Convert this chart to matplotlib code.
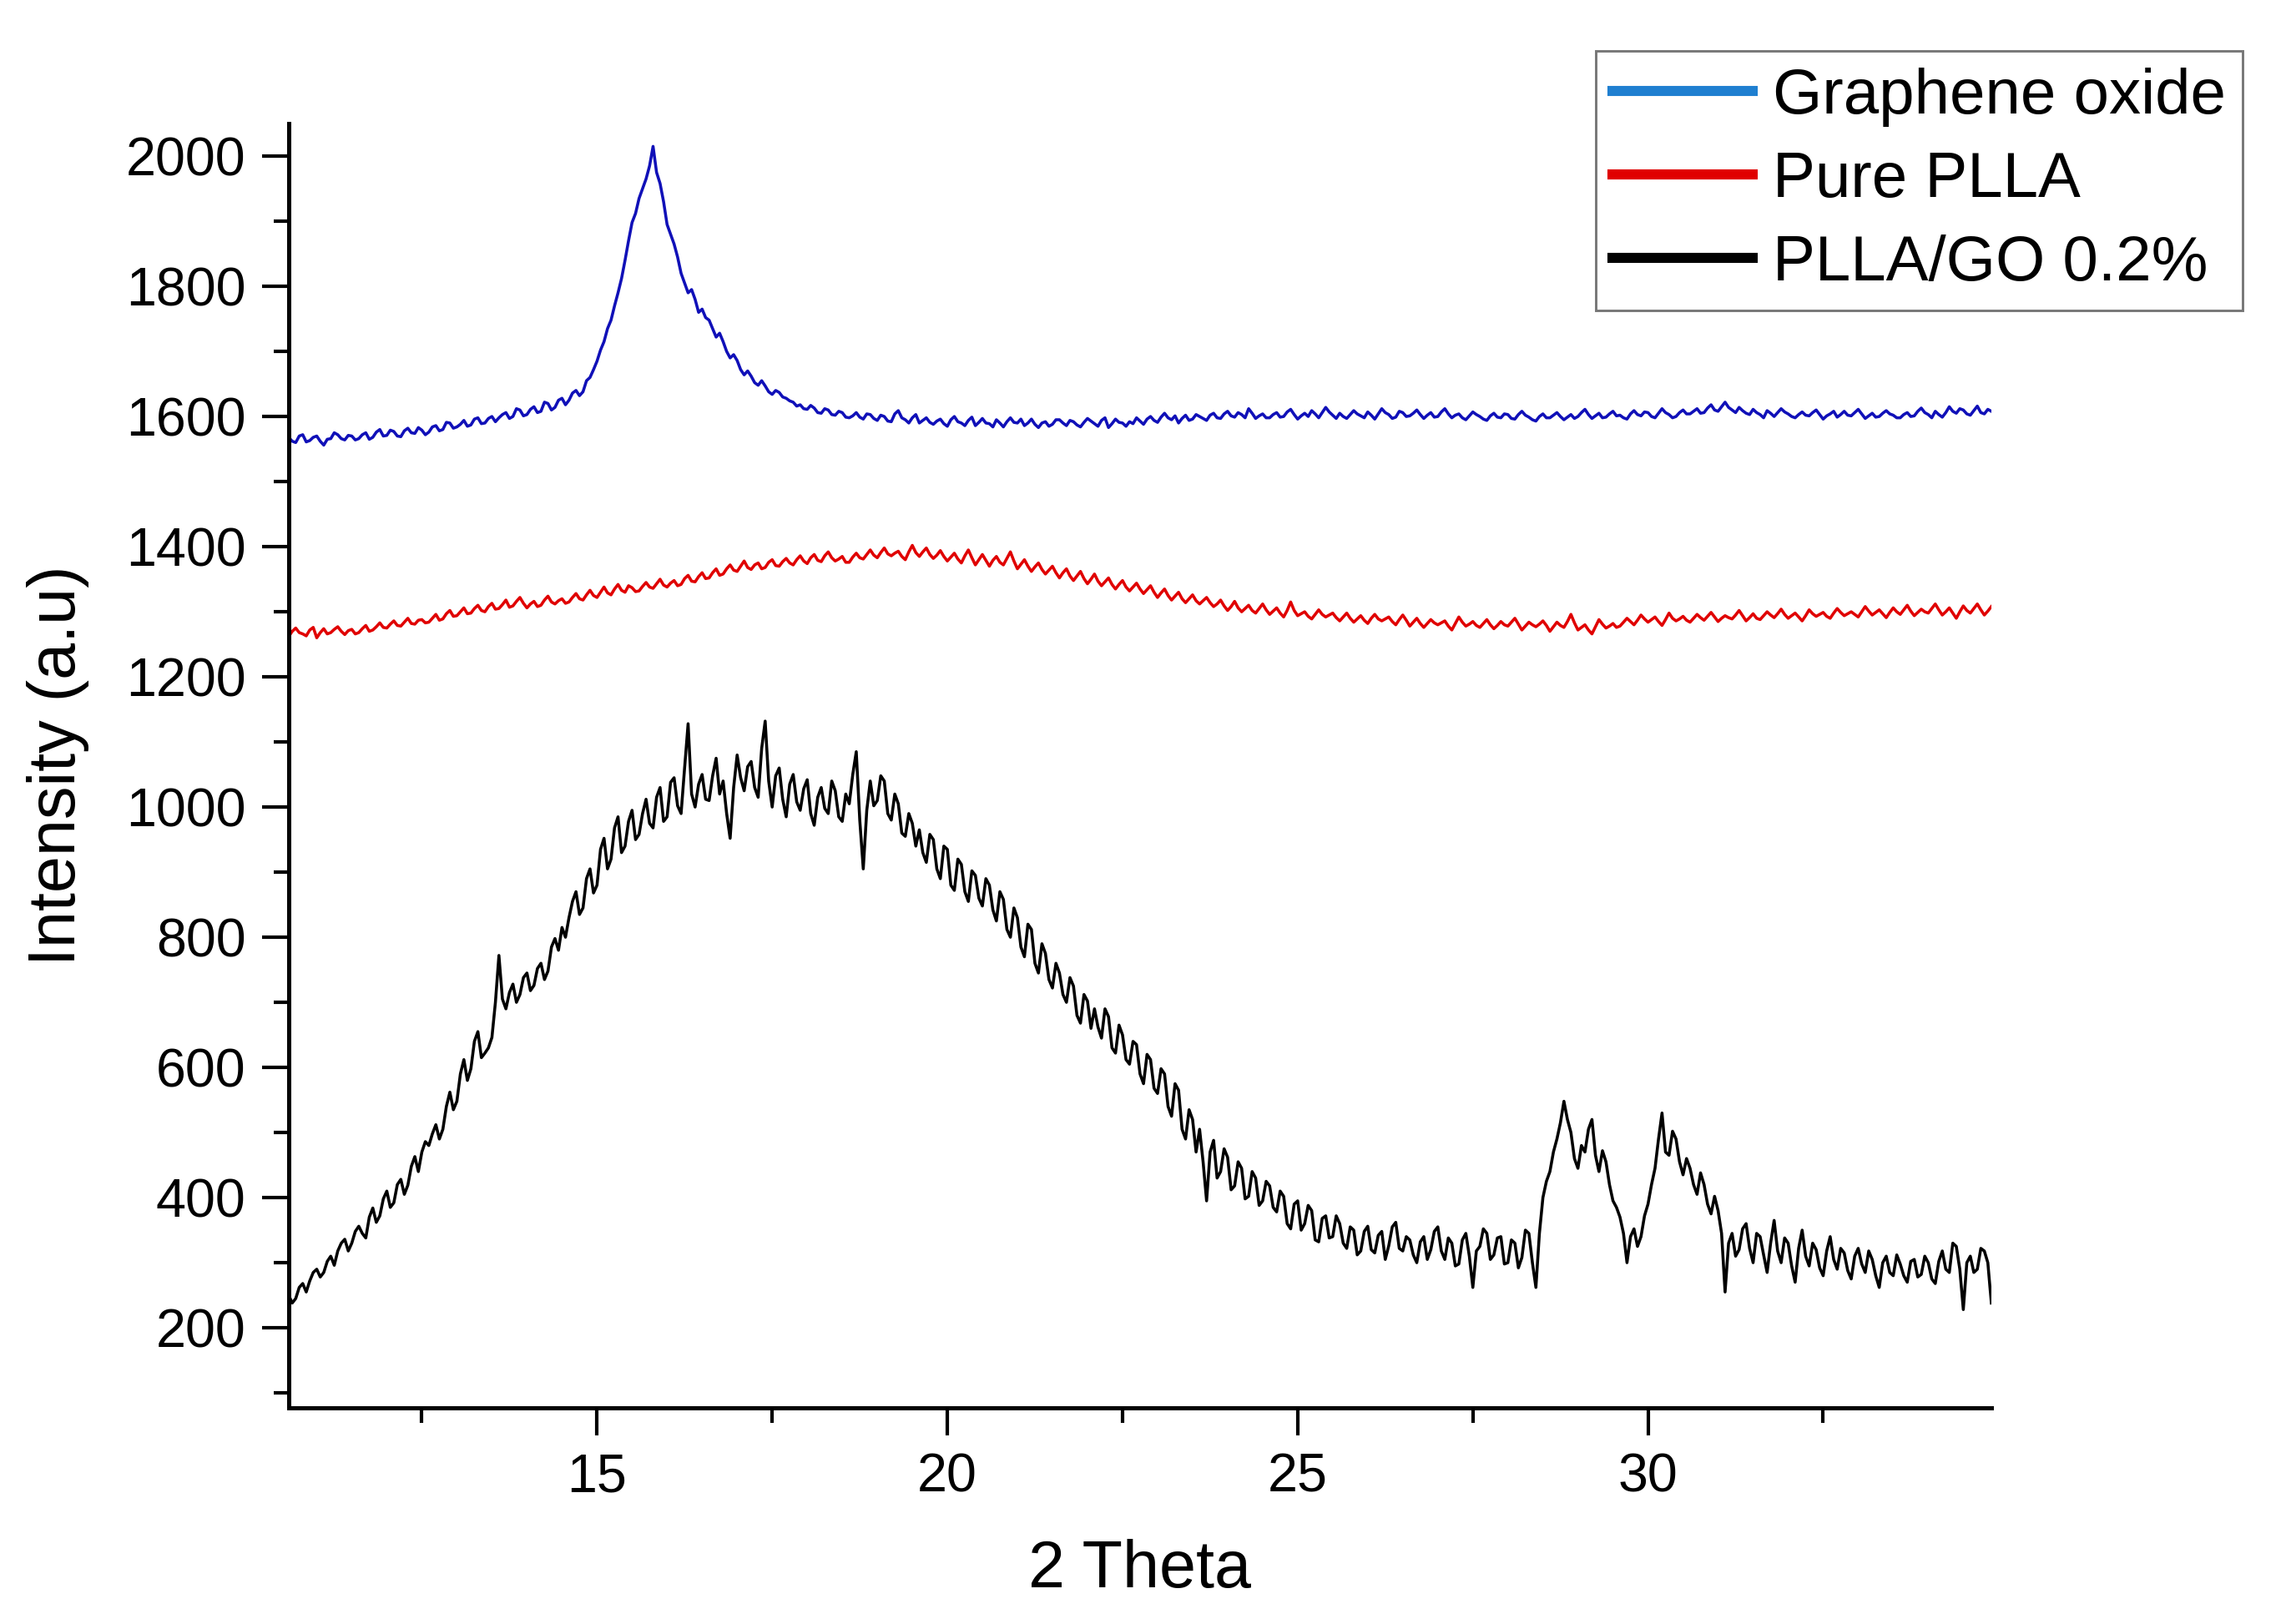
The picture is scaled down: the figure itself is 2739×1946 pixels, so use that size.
import numpy as np
import matplotlib
matplotlib.use("Agg")
import matplotlib.pyplot as plt
from matplotlib.lines import Line2D
from matplotlib.ticker import MultipleLocator

# 2 theta grid, 0.05 deg steps from 10.6 to 34.9
THETA_START = 10.6
THETA_STEP = 0.05

# values, one row per degree (x.6 .. x+1.55)
graphene_oxide = [
    1568, 1562, 1560, 1570, 1572, 1561, 1563, 1568, 1570, 1562, 1556, 1565, 1566, 1575, 1572, 1566, 1564, 1571, 1570, 1564,
    1566, 1572, 1575, 1565, 1568, 1576, 1580, 1570, 1571, 1579, 1577, 1570, 1569, 1578, 1582, 1575, 1574, 1583, 1579, 1572,
    1576, 1584, 1586, 1578, 1580, 1591, 1590, 1582, 1584, 1588, 1594, 1585, 1587, 1596, 1598, 1589, 1590, 1597, 1600, 1592,
    1598, 1603, 1606, 1597, 1600, 1612, 1610, 1601, 1603, 1611, 1615, 1606, 1608, 1622, 1620, 1610, 1614, 1625, 1628, 1618,
    1625, 1636, 1640, 1632, 1638, 1655, 1660, 1672, 1685, 1702, 1715, 1735, 1748, 1770, 1790, 1812, 1840, 1870, 1898, 1912,
    1935, 1950, 1965, 1985, 2015, 1975, 1958, 1930, 1895, 1880, 1865, 1845, 1820, 1805, 1790, 1795, 1780, 1760, 1765, 1752,
    1748, 1735, 1722, 1728, 1715, 1700, 1690, 1695, 1686, 1672, 1664, 1670, 1662, 1652, 1648, 1655, 1647, 1638, 1634, 1640,
    1637, 1630, 1628, 1624, 1622, 1616, 1618, 1612, 1611, 1617, 1613, 1606, 1605, 1612, 1610, 1603, 1602, 1608, 1606, 1599,
    1598, 1601, 1606, 1599, 1596, 1604, 1603, 1597, 1594, 1602, 1600, 1593, 1592, 1604, 1609, 1598, 1595, 1590, 1598, 1603,
    1590, 1594, 1598, 1591, 1588, 1593, 1596, 1589, 1585, 1595, 1600, 1592, 1590, 1586, 1594, 1599, 1586, 1591, 1597, 1590,
    1589, 1584, 1595, 1590, 1584, 1592, 1598, 1591, 1590, 1596, 1586, 1590, 1596, 1588, 1583, 1590, 1592, 1585, 1588, 1595,
    1595, 1590, 1586, 1594, 1592, 1587, 1584, 1591, 1597, 1593, 1589, 1585, 1594, 1598, 1583, 1589, 1596, 1591, 1590, 1585,
    1592, 1589, 1598, 1593, 1588, 1596, 1600, 1594, 1591, 1599, 1605, 1598, 1595, 1601, 1590, 1597, 1602, 1594, 1596, 1603,
    1600, 1597, 1594, 1602, 1605, 1598, 1597, 1604, 1608, 1601, 1599, 1606, 1603, 1598, 1612, 1605, 1597, 1601, 1604, 1598,
    1598, 1603, 1606, 1599, 1600, 1607, 1611, 1603, 1596, 1601, 1605, 1600, 1609, 1604, 1598, 1606, 1614, 1607, 1602, 1597,
    1605, 1600, 1597, 1603, 1609, 1604, 1601, 1598, 1607, 1602, 1596, 1604, 1612, 1606, 1603, 1597, 1599, 1608, 1606, 1600,
    1601, 1605, 1610, 1603, 1597, 1602, 1606, 1599, 1600, 1607, 1612, 1604, 1598, 1602, 1604, 1598, 1595, 1601, 1607, 1603,
    1600, 1596, 1594, 1601, 1605, 1599, 1598, 1604, 1603, 1597, 1596, 1603, 1608, 1602, 1599, 1595, 1593, 1600, 1604, 1598,
    1598, 1602, 1606, 1600, 1595, 1599, 1603, 1597, 1600, 1606, 1611, 1603, 1597, 1601, 1605, 1598, 1599, 1604, 1608, 1601,
    1602, 1598, 1596, 1604, 1609, 1603, 1601, 1607, 1606, 1600, 1598, 1605, 1612, 1606, 1603, 1598, 1600, 1606, 1610, 1604,
    1604, 1608, 1612, 1605, 1606, 1613, 1618, 1610, 1608, 1615, 1622, 1614, 1610, 1606, 1614, 1609, 1605, 1603, 1611, 1606,
    1603, 1598, 1609, 1605, 1600, 1606, 1612, 1607, 1604, 1600, 1598, 1603, 1607, 1602, 1601, 1606, 1610, 1603, 1596, 1601,
    1604, 1608, 1599, 1603, 1608, 1602, 1601, 1606, 1611, 1604, 1597, 1601, 1605, 1599, 1600, 1605, 1609, 1604, 1602, 1598,
    1598, 1603, 1606, 1600, 1601, 1608, 1613, 1606, 1603, 1598, 1608, 1603, 1599, 1606, 1615, 1608, 1605, 1612, 1610, 1604,
    1602, 1609, 1616, 1606, 1604, 1611, 1608,
]

pure_plla = [
    1262, 1270, 1275, 1268, 1266, 1263, 1272, 1276, 1260, 1268, 1274, 1266, 1268, 1273, 1277, 1270, 1265, 1271, 1273, 1266,
    1268, 1274, 1279, 1270, 1272, 1277, 1283, 1276, 1275, 1281, 1286, 1279, 1278, 1284, 1290, 1282, 1281, 1287, 1288, 1283,
    1284, 1290, 1296, 1287, 1289, 1297, 1302, 1293, 1294, 1300, 1306, 1297, 1298, 1305, 1310, 1302, 1300, 1308, 1313, 1304,
    1305, 1311, 1318, 1307, 1309, 1316, 1322, 1313, 1306, 1312, 1316, 1308, 1310, 1318, 1324, 1315, 1312, 1317, 1320, 1313,
    1315, 1322, 1328, 1320, 1318, 1326, 1333, 1325, 1322, 1330, 1338, 1329, 1326, 1335, 1342, 1333, 1330, 1340, 1337, 1331,
    1332, 1339, 1345, 1338, 1336, 1343, 1350, 1341, 1338, 1344, 1348, 1340, 1342, 1351, 1356, 1347, 1346, 1354, 1360, 1351,
    1352, 1360, 1366, 1356, 1358, 1366, 1372, 1364, 1362, 1370, 1378, 1368, 1365, 1372, 1375, 1366, 1368, 1376, 1380, 1371,
    1370, 1377, 1382, 1375, 1372, 1380, 1386, 1378, 1374, 1383, 1388, 1379, 1377, 1386, 1392, 1383, 1378, 1381, 1385, 1376,
    1376, 1384, 1390, 1383, 1381, 1388, 1395, 1387, 1383, 1391, 1398, 1389, 1386, 1390, 1393, 1385, 1380, 1392, 1402, 1391,
    1385, 1392, 1398, 1388, 1382, 1387, 1394, 1385, 1378, 1384, 1390, 1381, 1375, 1386, 1395, 1383, 1372, 1380, 1388, 1379,
    1370, 1379, 1385, 1376, 1372, 1382, 1392, 1378, 1366, 1373, 1380, 1370, 1362, 1369, 1375, 1365, 1358, 1364, 1370, 1360,
    1352, 1360, 1366, 1355, 1348, 1355, 1362, 1351, 1343, 1350, 1358, 1347, 1340, 1346, 1352, 1342, 1335, 1342, 1348, 1338,
    1332, 1338, 1344, 1335, 1328, 1334, 1340, 1330, 1322, 1329, 1335, 1325, 1318, 1324, 1330, 1320, 1314, 1320, 1326, 1317,
    1312, 1317, 1322, 1314, 1308, 1312, 1318, 1309, 1302, 1308, 1316, 1306, 1300, 1305, 1310, 1302, 1298, 1305, 1312, 1303,
    1296, 1301, 1306, 1298, 1292, 1302, 1315, 1302, 1294, 1297, 1300, 1293, 1289, 1296, 1303, 1296, 1292, 1295, 1298, 1291,
    1286, 1292, 1298, 1290, 1284, 1289, 1294, 1287, 1282, 1290, 1296, 1289, 1286, 1289, 1292, 1285, 1280, 1288, 1295, 1287,
    1278, 1284, 1290, 1282, 1276, 1282, 1288, 1283, 1280, 1283, 1286, 1278, 1272, 1282, 1292, 1284, 1278, 1281, 1285, 1279,
    1276, 1282, 1288, 1280, 1274, 1279, 1285, 1280, 1278, 1284, 1290, 1281, 1272, 1278, 1284, 1280, 1277, 1281, 1286, 1279,
    1270, 1277, 1284, 1279, 1276, 1285, 1296, 1283, 1272, 1276, 1280, 1272, 1266, 1277, 1288, 1281, 1275, 1278, 1282, 1276,
    1278, 1284, 1290, 1285, 1280, 1287, 1295, 1289, 1284, 1288, 1292, 1285, 1279, 1288, 1298, 1290, 1286, 1289, 1293, 1287,
    1284, 1290, 1296, 1291, 1287, 1293, 1299, 1292, 1285, 1290, 1294, 1291, 1289, 1295, 1302, 1294, 1286, 1291, 1297, 1290,
    1288, 1294, 1300, 1295, 1291, 1297, 1304, 1296, 1290, 1294, 1298, 1292, 1286, 1294, 1303, 1297, 1293, 1296, 1299, 1293,
    1290, 1298, 1305, 1299, 1294, 1297, 1300, 1296, 1292, 1300, 1308, 1301, 1295, 1299, 1303, 1297, 1291, 1299, 1306, 1300,
    1296, 1303, 1310, 1301, 1294, 1299, 1304, 1300, 1298, 1305, 1312, 1303, 1295, 1300, 1306, 1298, 1290, 1300, 1309, 1302,
    1298, 1305, 1312, 1303, 1295, 1301, 1308,
]

plla_go = [
    250, 238, 245, 262, 268, 255, 272, 285, 290, 278, 285, 302, 310, 296, 318, 330, 336, 318, 330, 348,
    356, 345, 338, 370, 384, 362, 372, 398, 410, 385, 392, 420, 428, 405, 419, 448, 463, 440, 470, 486,
    480, 498, 512, 490, 505, 540, 562, 535, 548, 590, 612, 580, 598, 640, 655, 615, 622, 630, 646, 700,
    772, 705, 690, 715, 728, 700, 712, 738, 745, 718, 726, 752, 760, 735, 748, 785, 798, 780, 815, 800,
    830, 855, 870, 835, 845, 890, 905, 868, 880, 935, 952, 905, 920, 968, 985, 930, 940, 978, 995, 950,
    958, 990, 1012, 975, 968, 1015, 1030, 978, 985, 1038, 1045, 1002, 990, 1060, 1128, 1020, 1000, 1035, 1050, 1012,
    1010, 1048, 1075, 1020, 1040, 990, 952, 1030, 1080, 1045, 1025, 1062, 1070, 1030, 1015, 1090, 1132, 1040, 1000, 1048,
    1060, 1012, 985, 1035, 1050, 1008, 995, 1028, 1042, 990, 972, 1015, 1030, 998, 990, 1040, 1025, 985, 978, 1020,
    1005, 1050, 1085, 980, 905, 995, 1040, 1002, 1010, 1048, 1040, 990, 980, 1020, 1005, 960, 955, 990, 975, 940,
    965, 930, 915, 958, 950, 905, 890, 940, 935, 880, 872, 920, 912, 870, 855, 902, 895, 860, 848, 890,
    880, 842, 825, 870, 858, 812, 800, 845, 830, 785, 770, 820, 812, 760, 745, 790, 775, 735, 722, 760,
    745, 712, 700, 738, 725, 680, 668, 712, 702, 660, 690, 662, 645, 690, 678, 630, 622, 665, 650, 612,
    605, 640, 635, 590, 575, 620, 612, 568, 560, 598, 590, 540, 525, 575, 565, 505, 490, 535, 520, 470,
    505, 455, 395, 470, 488, 430, 440, 475, 462, 412, 418, 455, 445, 398, 402, 440, 430, 388, 395, 425,
    418, 385, 378, 410, 402, 360, 352, 390, 395, 350, 360, 388, 380, 335, 332, 368, 372, 338, 340, 372,
    360, 330, 322, 355, 350, 312, 318, 348, 356, 320, 315, 342, 348, 305, 326, 355, 362, 322, 318, 340,
    335, 312, 300, 332, 340, 305, 320, 348, 355, 318, 305, 338, 330, 295, 298, 335, 345, 310, 262, 318,
    325, 352, 345, 305, 312, 338, 340, 298, 300, 335, 330, 292, 308, 350, 345, 300, 262, 345, 400, 425,
    440, 470, 490, 515, 548, 520, 500, 460, 445, 480, 470, 505, 520, 465, 440, 472, 455, 420, 395, 385,
    370, 345, 300, 340, 352, 325, 340, 372, 390, 420, 445, 490, 530, 470, 465, 502, 490, 455, 435, 460,
    445, 420, 405, 438, 420, 390, 375, 402, 380, 345, 255, 330, 345, 310, 320, 352, 360, 322, 300, 345,
    340, 312, 285, 330, 365, 318, 300, 338, 330, 295, 270, 322, 350, 310, 295, 330, 320, 292, 280, 318,
    340, 305, 290, 322, 315, 288, 275, 310, 322, 298, 285, 318, 305, 280, 262, 300, 310, 285, 280, 312,
    298, 280, 270, 302, 305, 278, 282, 310, 300, 275, 268, 302, 318, 290, 285, 330, 325, 290, 228, 300,
    310, 285, 290, 322, 318, 300, 238,
]

series_labels = ["Graphene oxide", "Pure PLLA", "PLLA/GO 0.2%"]
line_colors = ["#1010b8", "#e00000", "#000000"]
legend_colors = ["#1f7fd0", "#e00000", "#000000"]


def main():
    plt.rcParams["font.family"] = ["Liberation Sans", "DejaVu Sans"]

    fig = plt.figure(figsize=(2739 / 300, 1946 / 300), dpi=300)
    ax = fig.add_axes([0.1263, 0.1331, 0.7448, 0.7908])

    for values, color in zip([graphene_oxide, pure_plla, plla_go], line_colors):
        theta = THETA_START + THETA_STEP * np.arange(len(values))
        ax.plot(theta, values, color=color, linewidth=0.85)

    ax.set_xlim(10.6, 34.9)
    ax.set_ylim(77, 2050)

    ax.xaxis.set_major_locator(MultipleLocator(5))
    ax.xaxis.set_minor_locator(MultipleLocator(2.5))
    ax.yaxis.set_major_locator(MultipleLocator(200))
    ax.yaxis.set_minor_locator(MultipleLocator(100))

    for side in ["top", "right"]:
        ax.spines[side].set_visible(False)
    for side in ["left", "bottom"]:
        ax.spines[side].set_linewidth(1.2)

    ax.tick_params(which="major", direction="out", length=7.8, width=1.0,
                   labelsize=15.5, pad=5)
    ax.tick_params(which="minor", direction="out", length=4.3, width=1.0)
    ax.tick_params(axis="y", which="major", pad=4.5)

    ax.set_xlabel("2 Theta", fontsize=19)
    ax.set_ylabel("Intensity (a.u)", fontsize=19)
    ax.xaxis.set_label_coords(0.5, -0.102)
    ax.yaxis.set_label_coords(-0.117, 0.5)

    handles = [Line2D([], [], color=c, linewidth=2.9) for c in legend_colors]
    leg = ax.legend(handles, series_labels, loc="upper right",
                    bbox_to_anchor=(0.981, 0.9687), bbox_transform=fig.transFigure,
                    fontsize=18.3, frameon=True, fancybox=False, borderaxespad=0,
                    handlelength=2.2, handletextpad=0.32, labelspacing=0.38,
                    borderpad=0.26)
    leg.get_frame().set_edgecolor("#555555")
    leg.get_frame().set_linewidth(0.7)

    fig.savefig("out.png", dpi=300)


if __name__ == "__main__":
    main()
